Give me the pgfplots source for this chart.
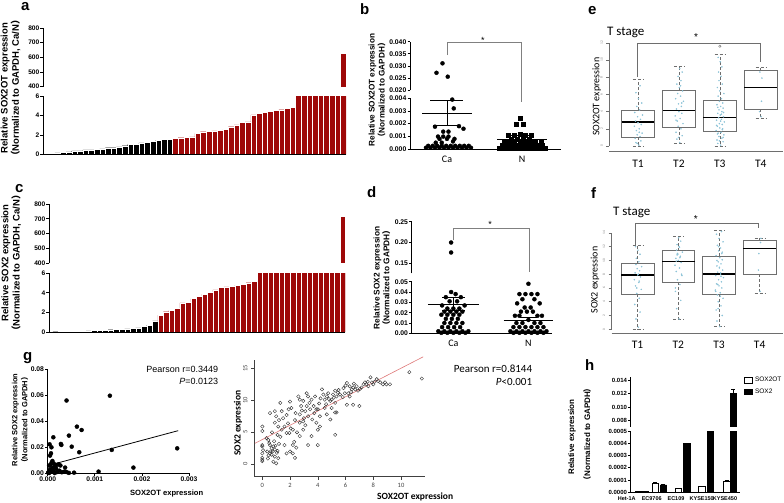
\documentclass[border=0pt]{standalone}
\usepackage{fontspec}
\setmainfont{Liberation Sans}
\newfontfamily\calib{Carlito}
\newfontfamily\cjk{Noto Sans CJK SC}
\usepackage{pgfplots}
\pgfplotsset{compat=1.18}
\usepgfplotslibrary{statistics}
\definecolor{dred}{RGB}{158,8,8}
\definecolor{jit}{RGB}{140,195,215}
\definecolor{rline}{RGB}{222,120,120}
\definecolor{bxg}{RGB}{110,110,110}
\newcommand\fs[1]{\fontsize{#1}{#1}\selectfont}
\newcommand\lp{{\cjk （}}
\newcommand\rp{{\cjk ）}}
\pgfplotsset{
  prism/.style={scale only axis, anchor=south west, axis lines*=left,
    axis line style={line width=0.8pt}, tick align=outside, major tick length=2.5pt,
    tick style={black, line width=0.8pt}, xtick=\empty, scaled ticks=false,
    yticklabel style={font=\fs{6.6}\bfseries, inner sep=1pt}, axis on top},
  prismup/.style={prism, axis x line=none, axis y line*=left},
  rbox/.style={scale only axis, anchor=south west, axis x line*=bottom, axis y line*=left,
    x axis line style={bxg, line width=0.5pt}, y axis line style={draw=none},
    xtick={1,2,3,4}, xticklabels={T1,T2,T3,T4}, xtick style={draw=none},
    xticklabel style={font=\calib\fs{11.5}, yshift=-2pt},
    ytick style={bxg, line width=0.5pt}, tick align=outside, major tick length=3pt,
    yticklabel style={rotate=90, anchor=south, font=\calib\fs{3.5}, text=gray}, clip=false,
    boxplot/draw direction=y,
    boxplot/every median/.style={black, line width=1.3pt},
    boxplot/every box/.style={draw=bxg, line width=0.5pt},
    boxplot/every whisker/.style={densely dashed, bxg, line width=0.5pt}},
}
\begin{document}
\begin{tikzpicture}
\path[use as bounding box] (0pt,0pt) rectangle (784pt,-503pt);

% ---------------- panel a ----------------
\begin{axis}[prism, at={(43pt,-154.5pt)}, width=303pt, height=58.5pt,
  xmin=-0.63, xmax=53.5, ymin=0, ymax=6, ytick={0,2,4,6}, yticklabels={0,2,4,6}]
\addplot[ybar, bar width=1, fill=black, draw=white, line width=0.3pt] coordinates {
(1,0.10)(2,0.17)(3,0.20)(4,0.27)(5,0.37)(6,0.37)(7,0.47)(8,0.47)(9,0.54)(10,0.57)(11,0.70)(12,0.70)(13,0.78)(14,0.90)(15,1.05)(16,1.05)(17,1.19)(18,1.22)(19,1.32)(20,1.46)(21,1.56)(22,1.56)};
\addplot[ybar, bar width=1, fill=dred, draw=white, line width=0.3pt] coordinates {
(23,1.66)(24,1.72)(25,1.74)(26,1.80)(27,2.17)(28,2.34)(29,2.40)(30,2.42)(31,2.50)(32,2.55)(33,2.85)(34,3.05)(35,3.30)(36,3.35)(37,4.07)(38,4.22)(39,4.35)(40,4.45)(41,4.50)(42,4.60)(43,4.75)(44,4.85)(45,20)(46,35)(47,50)(48,80)(49,110)(50,150)(51,200)(52,300)(53,630)};
\end{axis}
\begin{axis}[prismup, at={(43pt,-86.7pt)}, width=303pt, height=58.7pt,
  xmin=-0.63, xmax=53.5, ymin=400, ymax=800, ytick={400,500,600,700,800}, yticklabels={400,500,600,700,800}]
\addplot[ybar, bar width=1, fill=dred, draw=white, line width=0.3pt] coordinates {(53,630)};
\end{axis}

% ---------------- panel c ----------------
\begin{axis}[prism, at={(49pt,-332pt)}, width=296.3pt, height=58.7pt,
  xmin=-0.22, xmax=53.5, ymin=0, ymax=6, ytick={0,2,4,6}, yticklabels={0,2,4,6}]
\addplot[ybar, bar width=1, fill=black, draw=white, line width=0.3pt] coordinates {
(1,0.03)(2,0.04)(3,0.05)(4,0.06)(5,0.08)(6,0.10)(7,0.12)(8,0.14)(9,0.17)(10,0.20)(11,0.24)(12,0.27)(13,0.30)(14,0.33)(15,0.37)(16,0.42)(17,0.60)(18,0.68)(19,1.15)};
\addplot[ybar, bar width=1, fill=dred, draw=white, line width=0.3pt] coordinates {
(20,1.72)(21,2.08)(22,2.20)(23,2.40)(24,2.97)(25,3.05)(26,3.42)(27,3.65)(28,3.88)(29,4.08)(30,4.30)(31,4.55)(32,4.62)(33,4.65)(34,4.78)(35,4.90)(36,5.04)(37,5.20)
(38,7)(39,9)(40,12)(41,15)(42,20)(43,25)(44,30)(45,40)(46,50)(47,70)(48,90)(49,120)(50,160)(51,220)(52,300)(53,715)};
\end{axis}
\begin{axis}[prismup, at={(49pt,-263.3pt)}, width=296.3pt, height=59.3pt,
  xmin=-0.22, xmax=53.5, ymin=400, ymax=800, ytick={400,500,600,700,800}, yticklabels={400,500,600,700,800}]
\addplot[ybar, bar width=1, fill=dred, draw=white, line width=0.3pt] coordinates {(53,715)};
\end{axis}

% ---------------- panel b ----------------
\begin{axis}[prism, at={(410pt,-149pt)}, width=151pt, height=50.7pt, axis on top=false,
  xmin=0.507, xmax=2.52, ymin=0, ymax=0.004, clip=false,
  ytick={0,0.001,0.002,0.003,0.004}, yticklabels={0.000,0.001,0.002,0.003,0.004},
  yticklabel style={font=\fs{6.8}\bfseries},
  xtick={1,2}, xticklabels={Ca,N}, xtick style={draw=none}, xticklabel style={font=\calib\fs{10}, yshift=-1pt}]
\addplot[only marks, mark=*, mark size=2pt, black] coordinates {
(0.72,0.0001)(0.78,0.0001)(0.84,0.0001)(0.90,0.0001)(0.96,0.0001)(1.02,0.0001)(1.08,0.0001)(1.14,0.0001)(1.20,0.0001)(1.26,0.0001)(1.32,0.0001)
(0.75,0.00025)(0.81,0.00025)(0.87,0.00025)(0.93,0.00025)(0.99,0.00025)(1.05,0.00025)(1.11,0.00025)(1.17,0.00025)(1.23,0.00025)(1.29,0.00025)
(0.85,0.0005)(0.93,0.0005)(1.08,0.0006)(0.90,0.0008)(1.00,0.0008)(1.10,0.0008)(0.88,0.00098)(0.95,0.00098)(1.02,0.00098)
(0.95,0.00137)(1.02,0.00137)(0.84,0.00176)(1.16,0.0018)(1.22,0.0016)(1.09,0.0032)(1.07,0.0039)};
\addplot[only marks, mark=square*, mark size=2pt, black] coordinates {
(1.70,0.0001)(1.755,0.0001)(1.81,0.0001)(1.865,0.0001)(1.92,0.0001)(1.975,0.0001)(2.03,0.0001)(2.085,0.0001)(2.14,0.0001)(2.195,0.0001)(2.25,0.0001)(2.305,0.0001)
(1.73,0.0003)(1.79,0.0003)(1.85,0.0003)(1.91,0.0003)(1.97,0.0003)(2.03,0.0003)(2.09,0.0003)(2.15,0.0003)(2.21,0.0003)(2.27,0.0003)
(1.76,0.00055)(1.83,0.00055)(1.90,0.00055)(1.97,0.00055)(2.04,0.00055)(2.11,0.00055)(2.18,0.00055)(2.25,0.00055)
(1.85,0.0008)(1.93,0.0008)(2.01,0.0008)(2.09,0.0008)(1.82,0.0011)(1.90,0.0011)(2.04,0.0011)(2.12,0.0011)(1.97,0.0012)
(1.92,0.00197)(2.01,0.00197)(1.97,0.0024)};
\addplot[black, line width=0.8pt] coordinates {(0.67,0.0028)(1.33,0.0028)};
\addplot[black, line width=0.8pt] coordinates {(1.0,0.0019)(1.0,0.0038)};
\addplot[black, line width=0.8pt] coordinates {(0.78,0.0038)(1.22,0.0038)};
\addplot[black, line width=0.8pt] coordinates {(0.82,0.0019)(1.18,0.0019)};
\addplot[black, line width=0.8pt] coordinates {(1.67,0.00077)(2.33,0.00077)};
\addplot[black, line width=0.8pt] coordinates {(2.0,0.00043)(2.0,0.0011)};
\addplot[black, line width=0.8pt] coordinates {(1.85,0.0011)(2.15,0.0011)};
\end{axis}
\begin{axis}[prismup, at={(410pt,-90.3pt)}, width=151pt, height=48.6pt, axis on top=false,
  xmin=0.507, xmax=2.52, ymin=0.02, ymax=0.04, clip=false,
  ytick={0.02,0.025,0.03,0.035,0.04}, yticklabels={0.020,0.025,0.030,0.035,0.040},
  yticklabel style={font=\fs{6.8}\bfseries}]
\addplot[only marks, mark=*, mark size=2pt, black] coordinates {(0.86,0.0272)(0.94,0.0311)(1.01,0.0256)};
\addplot[gray, line width=0.5pt] coordinates {(1.0,0.0345)(1.0,0.0396)(1.99,0.0396)(1.99,0.0153)};
\node[font=\fs{9}] at (axis cs:1.48,0.0405) {*};
\end{axis}

% ---------------- panel d ----------------
\begin{axis}[prism, at={(411.7pt,-333.3pt)}, width=140pt, height=51.6pt, axis on top=false,
  xmin=0.445, xmax=2.31, ymin=0, ymax=0.05, clip=false,
  ytick={0,0.01,0.02,0.03,0.04,0.05}, yticklabels={0.00,0.01,0.02,0.03,0.04,0.05},
  yticklabel style={font=\fs{6.8}\bfseries},
  xtick={1,2}, xticklabels={Ca,N}, xtick style={draw=none}, xticklabel style={font=\calib\fs{10}, yshift=-1pt}]
\addplot[only marks, mark=*, mark size=2pt, black] coordinates {
(0.97,0.040)(1.03,0.038)(0.90,0.035)(1.10,0.035)(0.95,0.031)(1.05,0.031)(0.85,0.027)(1.15,0.027)
(0.92,0.024)(1.00,0.024)(1.08,0.024)(0.88,0.021)(0.96,0.021)(1.04,0.021)(1.12,0.021)
(0.84,0.018)(0.92,0.018)(1.00,0.018)(1.08,0.018)(0.90,0.014)(0.98,0.014)(1.06,0.014)
(0.88,0.010)(0.96,0.010)(1.04,0.010)(1.12,0.010)(0.85,0.006)(0.93,0.006)(1.01,0.006)(1.09,0.006)
(0.80,0.002)(0.88,0.002)(0.96,0.002)(1.04,0.002)(1.12,0.002)(1.20,0.002)
(0.84,0.0005)(0.92,0.0005)(1.00,0.0005)(1.08,0.0005)(1.16,0.0005)};
\addplot[only marks, mark=*, mark size=2pt, black] coordinates {
(2.00,0.048)(1.88,0.038)(1.96,0.038)(2.04,0.038)(2.12,0.038)(1.92,0.033)(2.08,0.033)(1.85,0.029)(2.15,0.029)
(1.95,0.025)(2.03,0.025)(1.90,0.021)(1.98,0.021)(2.06,0.021)(1.82,0.017)(1.88,0.017)(2.12,0.017)(2.18,0.017)
(2.00,0.013)(1.84,0.010)(1.92,0.010)(2.08,0.010)(2.16,0.010)
(1.80,0.006)(1.88,0.006)(1.96,0.006)(2.04,0.006)(2.12,0.006)(2.20,0.006)
(1.76,0.002)(1.84,0.002)(1.92,0.002)(2.00,0.002)(2.08,0.002)(2.16,0.002)(2.24,0.002)
(1.80,0.0005)(1.88,0.0005)(1.96,0.0005)(2.04,0.0005)(2.12,0.0005)(2.20,0.0005)};
\addplot[black, line width=0.8pt] coordinates {(0.66,0.0282)(1.34,0.0282)};
\addplot[black, line width=0.8pt] coordinates {(1.0,0.022)(1.0,0.0346)};
\addplot[black, line width=0.8pt] coordinates {(0.85,0.0346)(1.15,0.0346)};
\addplot[black, line width=0.8pt] coordinates {(0.85,0.022)(1.15,0.022)};
\addplot[black, line width=0.8pt] coordinates {(1.67,0.0129)(2.33,0.0129)};
\addplot[black, line width=0.8pt] coordinates {(2.0,0.0105)(2.0,0.0151)};
\addplot[black, line width=0.8pt] coordinates {(1.89,0.0151)(2.11,0.0151)};
\end{axis}
\begin{axis}[prismup, at={(411.7pt,-273.3pt)}, width=140pt, height=51.6pt, axis on top=false,
  xmin=0.445, xmax=2.31, ymin=0.126, ymax=0.25, clip=false,
  ytick={0.15,0.2,0.25}, yticklabels={0.15,0.20,0.25},
  yticklabel style={font=\fs{6.8}\bfseries}]
\addplot[only marks, mark=*, mark size=2pt, black] coordinates {(0.97,0.200)(0.97,0.176)};
\addplot[gray, line width=0.5pt] coordinates {(1.0,0.206)(1.0,0.234)(2.01,0.234)(2.01,0.130)};
\node[font=\fs{9}] at (axis cs:1.49,0.243) {*};
\end{axis}

% ---------------- panel e ----------------
\begin{axis}[rbox, at={(609.3pt,-151.7pt)}, width=173.7pt, height=111.5pt,
  xmin=0.298, xmax=4.545, ymin=-0.66, ymax=12.3,
  ytick={0,2,4,6,8,10,12}, yticklabels={0,2,4,6,8,10,12}]
\draw[bxg, line width=0.5pt] (axis cs:0.298,0) -- (axis cs:0.298,12);
\addplot[boxplot prepared={draw position=1, lower whisker=0, lower quartile=1.0, median=2.78, upper quartile=4.18, upper whisker=7.8, box extend=0.8, whisker extend=0.25}, bxg] coordinates {};
\addplot[boxplot prepared={draw position=2, lower whisker=0.38, lower quartile=2.24, median=4.1, upper quartile=6.5, upper whisker=9.32, box extend=0.8, whisker extend=0.25}, bxg] coordinates {};
\addplot[boxplot prepared={draw position=3, lower whisker=0, lower quartile=1.7, median=3.32, upper quartile=5.34, upper whisker=10.68, box extend=0.8, whisker extend=0.25}, bxg] coordinates {};
\addplot[boxplot prepared={draw position=4, lower whisker=3.28, lower quartile=4.26, median=6.8, upper quartile=8.78, upper whisker=9.12, box extend=0.8, whisker extend=0.25}, bxg] coordinates {};
\addplot[only marks, mark=o, mark size=1.2pt, bxg] coordinates {(3,11.6)};
\addplot[only marks, mark=*, mark size=0.55pt, jit] coordinates {
(1.02,0.1)(0.95,0.4)(1.07,0.6)(0.93,0.9)(1.05,1.1)(0.98,1.3)(1.10,1.5)(0.96,1.8)(1.03,2.0)(0.91,2.3)(1.08,2.5)(1.00,2.7)(0.94,2.9)(1.06,3.1)(0.99,3.4)(1.11,3.6)(0.92,3.9)(1.04,4.2)(0.97,4.6)(1.09,5.0)(1.01,5.5)(0.95,6.2)(1.05,7.0)(0.98,0.3)(1.03,1.6)
(2.02,0.4)(1.95,0.8)(2.08,1.2)(1.93,1.6)(2.05,2.0)(1.98,2.3)(2.10,2.6)(1.96,2.9)(2.03,3.2)(1.91,3.5)(2.07,3.8)(2.00,4.0)(1.94,4.3)(2.06,4.6)(1.99,4.9)(2.11,5.2)(1.92,5.5)(2.04,5.8)(1.97,6.1)(2.09,6.4)(2.01,6.8)(1.95,7.2)(2.05,7.6)(1.98,8.1)(2.08,8.6)(2.02,9.0)(1.93,3.0)(2.07,5.0)(1.99,1.0)(2.04,7.0)
(3.02,0.1)(2.95,0.3)(3.08,0.5)(2.93,0.7)(3.05,0.9)(2.98,1.1)(3.10,1.3)(2.96,1.5)(3.03,1.6)(2.91,1.8)(3.07,2.0)(3.00,2.1)(2.94,2.3)(3.06,2.5)(2.99,2.6)(3.11,2.8)(2.92,3.0)(3.04,3.1)(2.97,3.3)(3.09,3.4)(3.01,3.6)(2.95,3.8)(3.05,4.0)(2.98,4.2)(3.08,4.4)(3.02,4.6)(2.93,4.8)(3.07,5.0)(2.99,5.2)(3.04,5.5)(2.96,5.8)(3.10,6.1)(3.00,6.4)(2.94,6.8)(3.06,7.2)(2.98,7.6)(3.03,8.1)(2.97,8.6)(3.05,9.2)(3.01,9.8)(2.96,10.3)(3.08,1.0)(2.92,2.4)(3.04,3.7)(2.99,0.6)(3.06,1.9)(2.95,4.5)(3.02,2.9)(3.09,3.9)(2.94,1.4)
(4.02,5.2)(3.98,8.6)(4.03,7.9)(3.97,4.0)(4.01,3.4)};
\addplot[bxg, line width=0.5pt] coordinates {(0.99,8.0)(0.99,12.0)(4.0,12.0)(4.0,9.8)};
\node[font=\fs{10}] at (axis cs:2.42,12.7) {*};
\end{axis}

% ---------------- panel f ----------------
\begin{axis}[rbox, at={(611.7pt,-333pt)}, width=171.3pt, height=107pt,
  xmin=0.364, xmax=4.573, ymin=-0.54, ymax=15,
  ytick={0,2,4,6,8,10,12,14}, yticklabels={0,2,4,6,8,10,12,14}]
\draw[bxg, line width=0.5pt] (axis cs:0.364,0) -- (axis cs:0.364,14);
\addplot[boxplot prepared={draw position=1, lower whisker=0, lower quartile=5.12, median=7.88, upper quartile=9.52, upper whisker=12.18, box extend=0.8, whisker extend=0.25}, bxg] coordinates {};
\addplot[boxplot prepared={draw position=2, lower whisker=1.44, lower quartile=6.9, median=9.86, upper quartile=11.44, upper whisker=13.52, box extend=0.8, whisker extend=0.25}, bxg] coordinates {};
\addplot[boxplot prepared={draw position=3, lower whisker=0.38, lower quartile=5.16, median=8.02, upper quartile=10.62, upper whisker=14.4, box extend=0.8, whisker extend=0.25}, bxg] coordinates {};
\addplot[boxplot prepared={draw position=4, lower whisker=5.26, lower quartile=8.06, median=11.7, upper quartile=12.86, upper whisker=13.28, box extend=0.8, whisker extend=0.25}, bxg] coordinates {};
\addplot[only marks, mark=*, mark size=0.55pt, jit] coordinates {
(1.02,0.3)(0.96,1.5)(1.06,2.5)(0.93,3.6)(1.04,4.5)(0.98,5.2)(1.09,5.8)(0.95,6.3)(1.03,6.8)(0.92,7.2)(1.07,7.6)(1.00,7.9)(0.94,8.2)(1.05,8.5)(0.99,8.8)(1.10,9.1)(0.96,9.4)(1.03,9.8)(0.97,10.3)(1.06,10.9)(1.01,11.5)(0.95,12.0)(1.04,7.0)(0.98,6.0)(1.02,8.0)
(2.02,1.5)(1.96,3.0)(2.06,4.2)(1.93,5.5)(2.04,6.5)(1.98,7.2)(2.09,7.8)(1.95,8.4)(2.03,8.9)(1.92,9.3)(2.07,9.7)(2.00,10.0)(1.94,10.3)(2.05,10.6)(1.99,10.9)(2.10,11.2)(1.96,11.5)(2.03,11.9)(1.97,12.3)(2.06,12.8)(2.01,13.3)(1.95,9.9)(2.04,10.4)(1.98,11.0)(2.08,8.0)(1.93,6.0)(2.02,12.0)(1.97,10.8)
(3.02,0.4)(2.95,1.2)(3.08,2.0)(2.93,2.8)(3.05,3.4)(2.98,4.0)(3.10,4.5)(2.96,5.0)(3.03,5.3)(2.91,5.7)(3.07,6.0)(3.00,6.3)(2.94,6.6)(3.06,6.9)(2.99,7.2)(3.11,7.5)(2.92,7.8)(3.04,8.0)(2.97,8.3)(3.09,8.6)(3.01,8.9)(2.95,9.2)(3.05,9.5)(2.98,9.8)(3.08,10.1)(3.02,10.4)(2.93,10.7)(3.07,11.0)(2.99,11.4)(3.04,11.8)(2.96,12.2)(3.10,12.7)(3.00,13.2)(2.94,13.8)(3.06,14.2)(2.98,3.0)(3.03,4.8)(2.97,6.5)(3.05,7.7)(3.01,9.0)(2.95,10.0)(3.08,11.2)(2.92,5.5)(3.04,8.2)(2.99,12.0)
(4.02,12.6)(3.98,11.0)(4.03,13.2)(3.97,8.6)(4.01,5.5)};
\addplot[bxg, line width=0.5pt] coordinates {(0.95,12.2)(0.95,15.36)(3.97,15.36)(3.97,14.68)};
\node[font=\fs{10}] at (axis cs:2.43,16.0) {*};
\end{axis}

% ---------------- panel g left ----------------
\begin{axis}[prism, at={(47.7pt,-473.3pt)}, width=141.3pt, height=104pt, axis on top=false, clip=false,
  xmin=0, xmax=0.003, ymin=0, ymax=0.08,
  xtick={0,0.001,0.002,0.003}, xticklabels={0.000,0.001,0.002,0.003},
  xticklabel style={font=\fs{6.7}\bfseries, inner sep=1pt},
  ytick={0,0.02,0.04,0.06,0.08}, yticklabels={0.00,0.02,0.04,0.06,0.08},
  yticklabel style={font=\fs{6.8}\bfseries}]
\addplot[only marks, mark=*, mark size=2pt, black] coordinates {
(0.00132,0.0597)(0.00040,0.0560)(0.00062,0.0359)(0.00072,0.0333)(0.00045,0.0290)(0.00051,0.0205)(0.00067,0.0162)
(0.00136,0.0180)(0.00275,0.0192)(0.00012,0.0277)(0.00004,0.0223)(0.00008,0.0200)(0.00007,0.0154)(0.00005,0.0136)
(0.00028,0.0226)(0.00029,0.0218)(0.00182,0.0044)(0.00108,0.0013)(0.00056,0.0005)(0.00037,0.0044)(0.00019,0.0064)(0.00023,0.0069)
(0.00002,0.0010)(0.00005,0.0030)(0.00003,0.0060)(0.00010,0.0040)(0.00012,0.0020)(0.00008,0.0080)(0.00015,0.0050)(0.00020,0.0010)
(0.00025,0.0020)(0.00030,0.0008)(0.00035,0.0012)(0.00045,0.0003)(0.00015,0.0002)(0.00001,0.0005)(0.00006,0.0065)(0.00010,0.0095)
(0.00003,0.0002)(0.00008,0.0012)(0.00018,0.0035)(0.00027,0.0060)(0.00040,0.0010)(0.00013,0.0075)};
\addplot[black, line width=0.8pt] coordinates {(0.00005,0.0064)(0.00277,0.0328)};
\end{axis}

% ---------------- panel g right ----------------
\begin{axis}[scale only axis, anchor=south west, at={(254pt,-476.7pt)}, width=171pt, height=116.7pt,
  xmin=-0.6, xmax=11.73, ymin=-1.94, ymax=16.3, axis lines*=left,
  axis line style={black!75, line width=0.5pt}, tick align=outside, major tick length=3pt,
  tick style={black!75, line width=0.5pt}, clip=false,
  xtick={0,2,4,6,8,10}, xticklabels={0,2,4,6,8,10}, ytick={0,5,10,15}, yticklabels={0,5,10,15},
  xticklabel style={font=\calib\fs{6.5}, text=black!75},
  yticklabel style={font=\calib\fs{6.5}, text=black!75, rotate=90, anchor=south}]
\addplot[only marks, mark=o, mark size=1.7pt, black!80, mark options={line width=0.4pt}] coordinates {
(0,5.9)(0,5.2)(0,3.0)(0,2.8)(0,1.7)(0,1.0)(0,0.7)(0,0.5)(0.05,2.2)
(0.3,4.1)(0.43,3.8)(0.55,3.0)(0.67,2.5)(0.8,2.8)(0.9,2.3)(0.55,1.7)(0.67,1.5)(0.9,1.2)(0.8,0.4)(1.0,0.15)(1.15,0.95)(0.45,1.4)(0.35,2.0)(0.6,2.0)(0.75,2.0)(0.5,3.3)(0.4,0.9)(1.05,1.8)(0.85,3.6)(0.95,2.9)(1.1,2.1)(1.2,3.2)
(0.55,8.0)(0.9,8.3)(1.4,8.3)(1.3,9.6)(1.0,7.5)(0.9,6.5)(1.15,5.9)(1.4,5.4)(1.5,7.2)(1.75,7.7)(1.6,5.9)(1.9,8.6)(2.0,9.8)(2.1,8.8)(2.2,5.4)(1.75,4.9)(1.95,4.9)(1.6,3.0)(1.75,1.7)(2.0,2.0)(2.2,3.0)(2.2,1.7)(0.7,5.0)(1.2,6.9)(1.85,6.4)(2.35,6.9)(2.4,8.0)(1.1,4.6)(1.3,4.3)(2.05,5.6)
(2.6,10.6)(2.7,10.1)(2.8,9.1)(2.95,9.9)(3.1,8.3)(3.2,11.1)(3.3,10.6)(3.2,9.1)(2.7,7.8)(2.7,6.5)(2.95,6.7)(3.3,7.5)(3.45,8.6)(3.55,10.1)(3.7,9.1)(3.8,10.6)(3.9,8.6)(4.0,8.6)(4.15,7.5)(3.9,6.5)(4.15,5.9)(4.0,5.4)(3.3,3.0)(4.0,3.0)(3.55,4.4)(2.95,5.4)(2.7,4.4)(2.5,5.0)(3.0,7.2)(3.6,7.0)(3.4,9.6)(3.75,8.0)(2.85,8.4)(3.1,6.1)(4.1,9.5)(4.2,10.3)(2.3,3.5)(2.45,2.6)(2.35,1.0)
(4.3,11.7)(4.4,10.9)(4.5,10.1)(4.65,10.6)(4.75,11.1)(4.9,9.9)(5.0,10.1)(5.1,10.9)(5.25,11.5)(5.35,10.6)(5.25,9.6)(5.0,8.8)(4.65,7.8)(4.9,7.0)(5.25,8.1)(5.35,8.1)(5.25,4.6)(4.5,8.8)(4.8,10.2)(5.45,11.2)(5.6,10.9)(4.6,9.4)(5.15,10.4)(5.5,11.6)
(6.1,12.7)(6.3,12.2)(6.45,11.7)(6.55,12.0)(6.7,11.7)(6.8,12.2)(6.9,11.5)(7.15,12.0)(7.3,12.5)(7.4,12.8)(7.5,12.5)(7.65,12.2)(7.8,13.6)(7.9,12.8)(8.0,12.5)(8.1,12.9)(8.25,13.3)(8.35,13.0)(8.5,12.8)(8.7,12.5)(8.85,12.8)(8.95,12.5)(9.2,12.5)(6.3,10.6)(6.1,9.3)(6.55,9.3)(7.0,9.1)(5.95,11.1)(6.2,11.1)(5.85,11.9)(6.0,12.3)(6.6,12.6)(7.05,11.8)(7.6,12.9)(6.4,11.3)(5.8,10.5)
(10.6,14.4)(11.5,13.4)};
\addplot[rline, line width=0.6pt] coordinates {(-0.53,3.28)(11.6,16.8)};
\end{axis}

% ---------------- panel h ----------------
\begin{axis}[prism, at={(630.7pt,-492.3pt)}, width=109.3pt, height=61.3pt,
  xmin=630.7, xmax=740, ymin=0, ymax=0.0005,
  ytick={0,0.0001,0.0002,0.0003,0.0004,0.0005}, yticklabels={0.0000,0.0001,0.0002,0.0003,0.0004,0.0005},
  yticklabel style={font=\fs{6}\bfseries}]
\addplot[ybar, bar width=6.5, fill=white, draw=black, line width=0.8pt,
  error bars/.cd, y dir=plus, y explicit, error bar style={line width=0.7pt}, error mark options={rotate=90, mark size=2pt, line width=0.7pt}]
  coordinates {(638.3,0.0000106) +- (0,0) (655.3,0.000075) +- (0,0.000006) (678.3,0.000033) +- (0,0) (701.7,0.000046) +- (0,0) (726.7,0.00009) +- (0,0.000006)};
\addplot[ybar, bar width=6.5, fill=black, draw=black, line width=0.8pt,
  error bars/.cd, y dir=plus, y explicit, error bar style={line width=0.7pt}, error mark options={rotate=90, mark size=2pt, line width=0.7pt}]
  coordinates {(645,0.000005) +- (0,0) (663.3,0.00006) +- (0,0.000004) (687,0.000395) +- (0,0.000007) (710.3,0.0021) +- (0,0) (733.3,0.012) +- (0,0)};
\end{axis}
\begin{axis}[prismup, at={(630.7pt,-426.7pt)}, width=109.3pt, height=50pt,
  xmin=630.7, xmax=740, ymin=0.0071, ymax=0.0145,
  ytick={0.008,0.01,0.012,0.014}, yticklabels={0.008,0.010,0.012,0.014},
  yticklabel style={font=\fs{6}\bfseries},
  legend style={at={(1.037,1.034)}, anchor=north west, draw=none, fill=none, font=\fs{6.5}, inner sep=0pt, row sep=1.5pt},
  legend cell align=left]
\addlegendimage{legend image code/.code={\draw[fill=white, draw=black, line width=0.8pt] (0pt,-2.8pt) rectangle (8pt,2.8pt);}}
\addlegendentry{SOX2OT}
\addlegendimage{legend image code/.code={\draw[fill=black, draw=black, line width=0.8pt] (0pt,-2.8pt) rectangle (8pt,2.8pt);}}
\addlegendentry{SOX2}
\addplot[ybar, bar width=6.5, fill=black, draw=black, line width=0.8pt, forget plot,
  error bars/.cd, y dir=plus, y explicit, error bar style={line width=0.7pt}, error mark options={rotate=90, mark size=2pt, line width=0.7pt}]
  coordinates {(733.3,0.012) +- (0,0.0007)};
\end{axis}

% ---------------- texts ----------------
\begin{scope}[every node/.style={inner sep=0pt}]
\node[anchor=base west, font=\fs{15}\bfseries] at (21pt,-10.5pt) {a};
\node[anchor=base west, font=\fs{15}\bfseries] at (360pt,-15pt) {b};
\node[anchor=base west, font=\fs{15}\bfseries] at (15pt,-192pt) {c};
\node[anchor=base west, font=\fs{15}\bfseries] at (367pt,-197pt) {d};
\node[anchor=base west, font=\fs{15}\bfseries] at (588pt,-15pt) {e};
\node[anchor=base west, font=\fs{15}\bfseries] at (591pt,-198pt) {f};
\node[anchor=base west, font=\fs{15}\bfseries] at (23pt,-360pt) {g};
\node[anchor=base west, font=\fs{15}\bfseries] at (585pt,-370pt) {h};

\node[rotate=90, align=center, font=\fontsize{9.5}{9.5}\selectfont\bfseries] at (10.5pt,-88pt) {Relative SOX2OT expression\\\lp Normalized to GAPDH, Ca/N\rp};
\node[rotate=90, align=center, font=\fontsize{9.5}{9.3}\selectfont\bfseries] at (11.3pt,-263pt) {Relative SOX2 expression\\\lp Normalized to GAPDH, Ca/N\rp};
\node[rotate=90, align=center, font=\fontsize{8.2}{10}\selectfont\bfseries] at (377pt,-90pt) {Relative SOX2OT expression\\\lp Normalized to GAPDH\rp};
\node[rotate=90, align=center, font=\fontsize{8.3}{9.7}\selectfont\bfseries] at (382pt,-278pt) {Relative SOX2 expression\\\lp Normalized to GAPDH\rp};
\node[rotate=90, align=center, font=\fontsize{7.5}{10}\selectfont\bfseries] at (20pt,-420pt) {Relative SOX2 expression\\\lp Normalized to GAPDH\rp};
\node[rotate=90, font=\fs{8}\bfseries] at (572pt,-437pt) {Relative expression};
\node[rotate=90, font=\fs{8}\bfseries] at (587pt,-434pt) {\lp Normalized to GAPDH\rp};

\node[anchor=west, font=\calib\fs{13}] at (607pt,-32pt) {T stage};
\node[anchor=west, font=\calib\fs{13}] at (613pt,-212.5pt) {T stage};
\node[rotate=90, font=\calib\fs{10}] at (596.7pt,-96.7pt) {SOX2OT expression};
\node[rotate=90, font=\calib\fs{10}] at (595pt,-280pt) {SOX2 expression};

\node[rotate=90, font=\calib\bfseries\fs{9.5}] at (238pt,-423pt) {SOX2 expression};
\node[anchor=west, font=\calib\bfseries\fs{9.5}] at (377pt,-496.7pt) {SOX2OT expression};
\node[font=\fs{7.6}\bfseries] at (166.7pt,-494pt) {SOX2OT expression};
\node[anchor=east, font=\fs{9}] at (218.3pt,-369.3pt) {Pearson r=0.3449};
\node[anchor=east, font=\fs{9}] at (218.3pt,-381pt) {\textit{P}=0.0123};
\node[anchor=east, font=\calib\fs{11}] at (532.3pt,-368.3pt) {Pearson r=0.8144};
\node[anchor=east, font=\calib\fs{11}] at (532.3pt,-381.7pt) {\textit{P}<0.001};

\node[font=\fs{5.5}\bfseries] at (626.7pt,-498.3pt) {Het-1A};
\node[font=\fs{5.5}\bfseries] at (651.7pt,-498.3pt) {EC9706};
\node[font=\fs{5.5}\bfseries] at (676pt,-498.3pt) {EC109};
\node[font=\fs{5.5}\bfseries] at (701.7pt,-498.3pt) {KYSE150};
\node[font=\fs{5.5}\bfseries] at (725pt,-498.3pt) {KYSE450};
\end{scope}
\end{tikzpicture}
\end{document}
